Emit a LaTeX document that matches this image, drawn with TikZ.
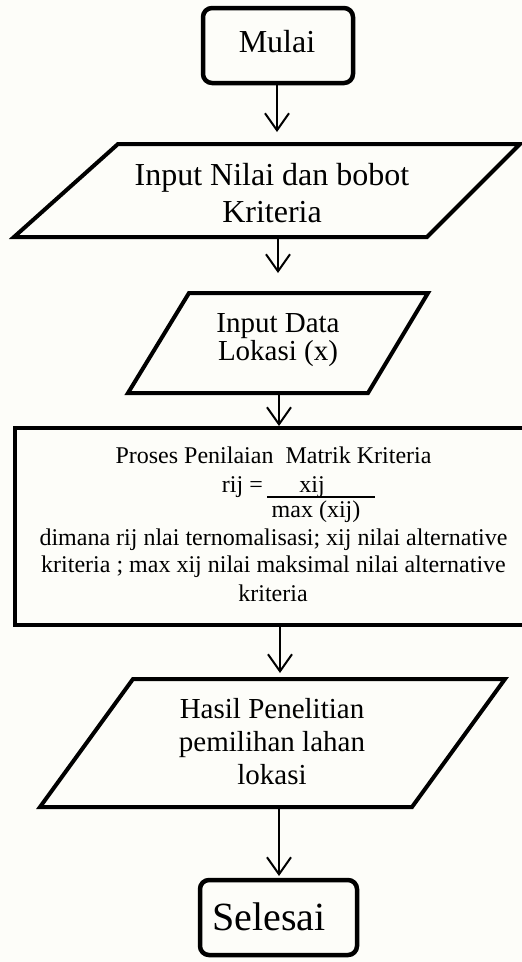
\documentclass[tikz,border=0pt]{standalone}
\usepackage{fontspec}
\setmainfont{Liberation Serif}
\usetikzlibrary{arrows.meta}
\definecolor{paper}{HTML}{FDFDF9}
\begin{document}
\begin{tikzpicture}[x=1pt,y=-1pt,
  termbox/.style={draw=black, line width=4.5pt, rounded corners=9pt},
  procbox/.style={draw=black, line width=4.5pt},
  iobox/.style={draw=black, line width=4pt, line join=miter},
  arr/.style={line width=2pt, -{Straight Barb[length=17pt,width=24pt]}},
  txt/.style={inner sep=0pt, anchor=base, text=black},
  big/.style={font=\fontsize{40}{46}\selectfont},
  head/.style={font=\fontsize{32}{37}\selectfont},
  mid/.style={font=\fontsize{29}{33}\selectfont},
  small/.style={font=\fontsize{24}{28}\selectfont},
]
\fill[paper] (0,0) rectangle (522,962);
\useasboundingbox (0,0) rectangle (522,962);

% start terminal
\node[termbox, minimum width=150pt, minimum height=75pt] (mulai) at (278,45.5) {};
\node[txt, head] (mulai-t) at (277,52) {Mulai};

% input: values and weights
\draw[iobox] (118,144) -- (520,144) -- (427,237) -- (14,237) -- cycle;
\node[txt, head] (nilai-1) at (272,185) {Input Nilai dan bobot};
\node[txt, head] (nilai-2) at (272,222) {Kriteria};
\coordinate (nilai-in) at (277,132);
\coordinate (nilai-out) at (278,237);

% input: location data
\draw[iobox] (189,293) -- (428,293) -- (368,393) -- (128,393) -- cycle;
\node[txt, mid] (data-1) at (278,332) {Input Data};
\node[txt, mid] (data-2) at (278,360) {Lokasi (x)};
\coordinate (data-in) at (278,273);
\coordinate (data-out) at (279,393);

% normalisation step
\node[procbox, minimum width=520pt, minimum height=197pt] (proses) at (275,526.5) {};
\node[txt, small] (p1) at (273.5,463) {Proses Penilaian\ \ Matrik Kriteria};
\node[txt, small, anchor=base east] (p2a) at (263,492) {rij =};
\node[txt, small] (p2b) at (312,492) {xij};
\draw[line width=1.4pt] (267,497) -- (375,497);
\node[txt, small] (p3) at (316,517) {max (xij)};
\node[txt, small] (p4) at (273.5,545) {dimana rij nlai ternomalisasi; xij nilai alternative};
\node[txt, small] (p5) at (273.5,572) {kriteria ; max xij nilai maksimal nilai alternative};
\node[txt, small] (p6) at (273,601) {kriteria};
\coordinate (proses-in) at (279,426);

% output: result
\draw[iobox] (133,679) -- (505,679) -- (412,807) -- (40,807) -- cycle;
\node[txt, mid] (hasil-1) at (272,718) {Hasil Penelitian};
\node[txt, mid] (hasil-2) at (272,751) {pemilihan lahan};
\node[txt, mid] (hasil-3) at (272,784) {lokasi};
\coordinate (hasil-in) at (280,673);
\coordinate (hasil-out) at (279,807);

% end terminal
\node[termbox, minimum width=157pt, minimum height=75pt] (selesai) at (278.5,917.5) {};
\node[txt, big] (selesai-t) at (269,930) {Selesai};
\coordinate (selesai-in) at (279,876);

% flow
\draw[arr] (mulai.south -| nilai-in) -- (nilai-in);
\draw[arr] (nilai-out) -- (data-in);
\draw[arr] (data-out) -- (proses-in);
\draw[arr] (proses.south -| hasil-in) -- (hasil-in);
\draw[arr] (hasil-out) -- (selesai-in);
\end{tikzpicture}
\end{document}
